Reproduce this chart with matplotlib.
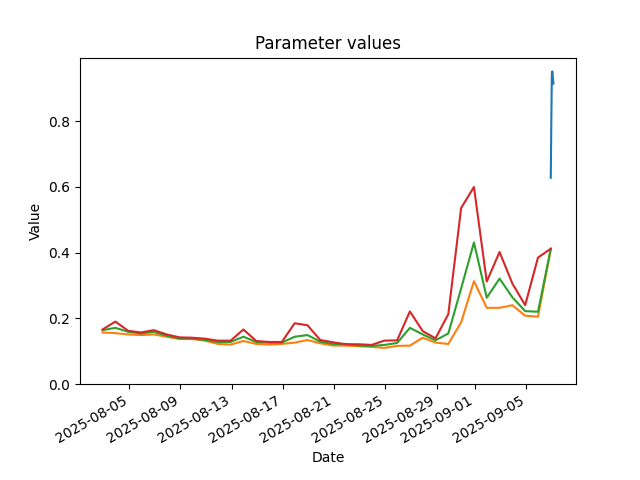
import matplotlib
matplotlib.use("Agg")
import matplotlib.pyplot as plt
import pandas as pd

# daily values, 2025-08-03 .. 2025-09-07 (timestamps at 22:00 UTC of the previous day)
days = pd.date_range("2025-08-02 22:00", periods=36, freq="D")

p_low = [0.157, 0.155, 0.151, 0.149, 0.151, 0.144, 0.137, 0.137, 0.132, 0.122,
         0.120, 0.131, 0.122, 0.120, 0.122, 0.126, 0.134, 0.124, 0.117, 0.117,
         0.115, 0.113, 0.110, 0.116, 0.117, 0.141, 0.126, 0.122, 0.188, 0.313,
         0.232, 0.232, 0.240, 0.208, 0.205, 0.410]
p_mid = [0.164, 0.171, 0.159, 0.154, 0.159, 0.147, 0.139, 0.138, 0.134, 0.128,
         0.128, 0.144, 0.128, 0.126, 0.126, 0.144, 0.149, 0.129, 0.122, 0.122,
         0.117, 0.116, 0.119, 0.125, 0.171, 0.151, 0.133, 0.154, 0.291, 0.431,
         0.263, 0.321, 0.264, 0.222, 0.220, 0.412]
p_high = [0.166, 0.190, 0.162, 0.157, 0.164, 0.151, 0.142, 0.141, 0.138, 0.132,
          0.132, 0.166, 0.131, 0.128, 0.128, 0.185, 0.179, 0.134, 0.127, 0.121,
          0.121, 0.119, 0.132, 0.133, 0.221, 0.161, 0.139, 0.213, 0.536, 0.600,
          0.312, 0.402, 0.306, 0.240, 0.385, 0.412]

# hourly values on the last day
hours = pd.date_range("2025-09-06 22:00", periods=6, freq="h")
p_hourly = [0.628, 0.80, 0.945, 0.952, 0.930, 0.915]

fig, ax = plt.subplots(figsize=(6.4, 4.8), dpi=100)
ax.plot(hours, p_hourly)
ax.plot(days, p_low)
ax.plot(days, p_mid)
ax.plot(days, p_high)
ax.set_ylim(bottom=0)
ax.set_title("Parameter values")
ax.set_xlabel("Date")
ax.set_ylabel("Value")
fig.autofmt_xdate()
fig.savefig("out.png")
